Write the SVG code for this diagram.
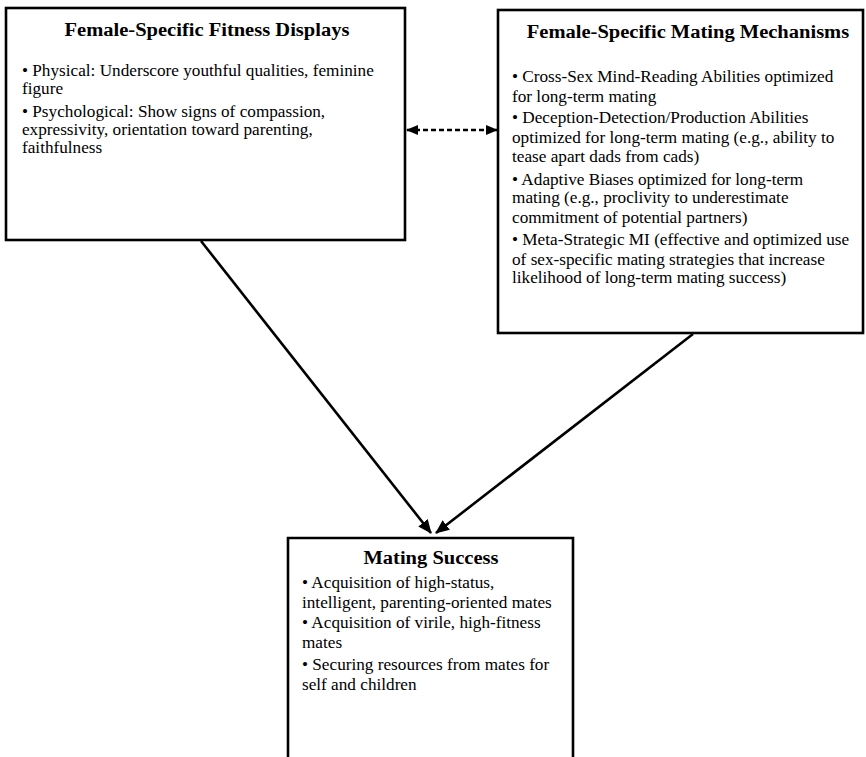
<svg xmlns="http://www.w3.org/2000/svg" width="866" height="757" viewBox="0 0 866 757">
<style>
.box{fill:#fff;stroke:#000;stroke-width:2.6}
.t{font-family:"Liberation Serif","Times New Roman",serif;font-weight:bold;font-size:19px;text-anchor:middle;fill:#000}
.b{font-family:"Liberation Serif","Times New Roman",serif;font-size:16px;fill:#000}
.c{stroke:#000;stroke-width:2.6;fill:none}
</style>
<defs>
<marker id="ah" viewBox="0 0 12 10" refX="11" refY="5" markerWidth="12" markerHeight="10" markerUnits="userSpaceOnUse" orient="auto-start-reverse">
<path d="M0,0 L12,5 L0,10 Z" fill="#000"/>
</marker>
<marker id="ah2" viewBox="0 0 14 12" refX="13" refY="6" markerWidth="14" markerHeight="12" markerUnits="userSpaceOnUse" orient="auto">
<path d="M0,0 L14,6 L0,12 Z" fill="#000"/>
</marker>
</defs>
<rect width="866" height="757" fill="#fff"/>
<g id="fitness-displays">
<rect class="box" x="6" y="8" width="399" height="232"/>
<g transform="translate(207,0) scale(1.08,1) translate(-207,0)">
<text class="t" x="207" y="36">Female-Specific Fitness Displays</text>
</g>
<g transform="translate(22,0) scale(1.075,1) translate(-22,0)">
<text class="b" x="22" y="76">• Physical: Underscore youthful qualities, feminine</text>
<text class="b" x="22" y="94">figure</text>
<text class="b" x="22" y="117">• Psychological: Show signs of compassion,</text>
<text class="b" x="22" y="135">expressivity, orientation toward parenting,</text>
<text class="b" x="22" y="153">faithfulness</text>
</g>
</g>
<g id="mating-mechanisms">
<rect class="box" x="498" y="10" width="365" height="323"/>
<g transform="translate(688,0) scale(1.08,1) translate(-688,0)">
<text class="t" x="688" y="38">Female-Specific Mating Mechanisms</text>
</g>
<g transform="translate(512,0) scale(1.075,1) translate(-512,0)">
<text class="b" x="512" y="82">• Cross-Sex Mind-Reading Abilities optimized</text>
<text class="b" x="512" y="102">for long-term mating</text>
<text class="b" x="512" y="123">• Deception-Detection/Production Abilities</text>
<text class="b" x="512" y="143">optimized for long-term mating (e.g., ability to</text>
<text class="b" x="512" y="162">tease apart dads from cads)</text>
<text class="b" x="512" y="185">• Adaptive Biases optimized for long-term</text>
<text class="b" x="512" y="203">mating (e.g., proclivity to underestimate</text>
<text class="b" x="512" y="223">commitment of potential partners)</text>
<text class="b" x="512" y="245">• Meta-Strategic MI (effective and optimized use</text>
<text class="b" x="512" y="265">of sex-specific mating strategies that increase</text>
<text class="b" x="512" y="283">likelihood of long-term mating success)</text>
</g>
</g>
<g id="mating-success">
<path class="box" d="M288,760 L288,538 L573,538 L573,760"/>
<g transform="translate(431,0) scale(1.08,1) translate(-431,0)">
<text class="t" x="431" y="564">Mating Success</text>
</g>
<g transform="translate(302,0) scale(1.075,1) translate(-302,0)">
<text class="b" x="302" y="588">• Acquisition of high-status,</text>
<text class="b" x="302" y="608">intelligent, parenting-oriented mates</text>
<text class="b" x="302" y="628">• Acquisition of virile, high-fitness</text>
<text class="b" x="302" y="648">mates</text>
<text class="b" x="302" y="670">• Securing resources from mates for</text>
<text class="b" x="302" y="690">self and children</text>
</g>
</g>
<g id="connectors">
<line class="c" x1="407" y1="130" x2="497" y2="130" stroke-dasharray="5,3" marker-start="url(#ah)" marker-end="url(#ah)"/>
<line class="c" x1="201" y1="241" x2="431" y2="533" marker-end="url(#ah2)"/>
<line class="c" x1="693" y1="334" x2="436" y2="533" marker-end="url(#ah2)"/>
</g>
</svg>
